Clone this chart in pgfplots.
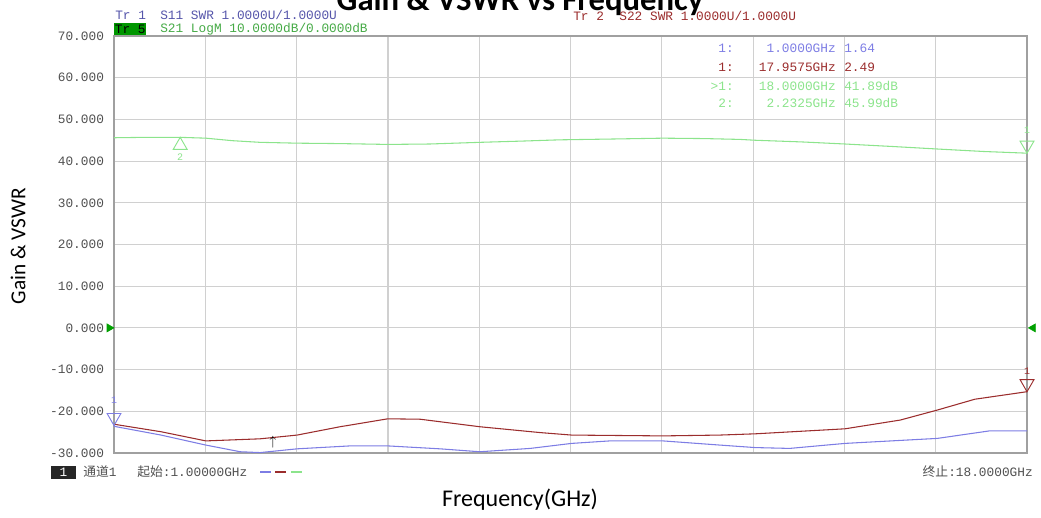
\documentclass[border=0pt]{standalone}
\usepackage{pgfplots}
\pgfplotsset{compat=1.18}
\usepackage{fontspec}
\setmainfont{Carlito}
\newfontfamily\vna{Liberation Mono}
\newfontfamily\cjk{Noto Sans CJK SC}
\definecolor{gridc}{RGB}{208,208,208}
\definecolor{framec}{RGB}{160,160,160}
\definecolor{tickc}{RGB}{80,80,80}
\definecolor{s21}{RGB}{140,228,140}
\definecolor{s21t}{RGB}{70,170,70}
\definecolor{s11}{RGB}{125,125,228}
\definecolor{s11t}{RGB}{85,85,170}
\definecolor{s22}{RGB}{155,45,45}
\definecolor{trbox}{RGB}{0,150,0}
\definecolor{refm}{RGB}{0,160,0}
\newcommand\vf{\vna\fontsize{9.6}{11}\selectfont}
\begin{document}
\begin{tikzpicture}
\path[use as bounding box] (0,0) rectangle (780.75pt,387.75pt);
\begin{axis}[
  at={(85.5pt,48pt)}, anchor=south west,
  scale only axis, width=684.75pt, height=312.75pt,
  xmin=1, xmax=18, ymin=-30, ymax=70,
  xtick={1,2.7,4.4,6.1,7.8,9.5,11.2,12.9,14.6,16.3,18}, xticklabels={},
  ytick={-30,-20,...,70},
  major tick length=0pt,
  grid=major,
  major grid style={draw=gridc, line width=0.9pt},
  axis line style={draw=framec, line width=1.3pt},
  yticklabel style={font=\vf, text=tickc, xshift=-4pt,
    /pgf/number format/fixed, /pgf/number format/fixed zerofill,
    /pgf/number format/precision=3, /pgf/number format/assume math mode=true},
  clip=false,
]
% S21 LogM
\addplot[s21, line width=0.8pt] coordinates {
(1,45.6) (1.6,45.7) (2.23,45.7) (2.71,45.5) (3.2,44.9) (3.72,44.5) (4.41,44.3)
(5.2,44.2) (6.10,44.0) (6.88,44.1) (7.81,44.5) (8.6,44.8) (9.30,45.1) (10.3,45.3)
(11.22,45.5) (12.0,45.4) (12.66,45.2) (12.94,45.0) (13.8,44.6) (14.61,44.1)
(15.5,43.5) (16.33,42.9) (17.2,42.3) (18,41.9)};
% S22 SWR
\addplot[s22, line width=0.8pt] coordinates {
(1,-23.1) (1.875,-24.9) (2.71,-27.1) (3.72,-26.6) (4.41,-25.7) (5.21,-23.7)
(6.10,-21.8) (6.70,-21.9) (7.81,-23.7) (8.93,-25.1) (9.52,-25.7) (11.22,-25.9)
(12.28,-25.7) (12.94,-25.4) (14.61,-24.2) (15.64,-22.1) (16.33,-19.7)
(17.03,-17.1) (18,-15.3)};
% S11 SWR
\addplot[s11, line width=0.8pt] coordinates {
(1,-23.6) (1.875,-25.7) (2.71,-28.1) (3.35,-29.7) (3.72,-29.9) (4.41,-29.0)
(5.39,-28.3) (6.10,-28.3) (7.07,-29.0) (7.81,-29.7) (8.75,-28.9) (9.52,-27.7)
(10.23,-27.1) (11.22,-27.1) (12.28,-28.1) (12.94,-28.7) (13.58,-28.9)
(14.61,-27.7) (16.33,-26.5) (17.30,-24.7) (18,-24.7)};
% markers
\addplot[s11, only marks, mark=triangle, mark size=6pt,
  mark options={yshift=6pt, rotate=180, line width=0.7pt}] coordinates {(1,-23.4)};
\addplot[s22, only marks, mark=triangle, mark size=6pt,
  mark options={yshift=6pt, rotate=180, line width=0.7pt}] coordinates {(18,-15.3)};
\addplot[s21, only marks, mark=triangle, mark size=6pt,
  mark options={yshift=6pt, rotate=180, line width=0.7pt}] coordinates {(18,41.9)};
\addplot[s21, only marks, mark=triangle, mark size=6pt,
  mark options={yshift=-6pt, line width=0.7pt}] coordinates {(2.2325,45.7)};
\addplot[s22, only marks, mark=text, text mark={$\uparrow$}] coordinates {(3.96,-27.3)};
% reference level markers
\addplot[refm, only marks, mark=triangle*, mark size=3.5pt,
  mark options={xshift=-3.5pt, rotate=-90}] coordinates {(1,0)};
\addplot[refm, only marks, mark=triangle*, mark size=3.5pt,
  mark options={xshift=4.5pt, rotate=90}] coordinates {(18,0)};
\node[s11, font=\vna\fontsize{7.5}{8}\selectfont, inner sep=0] at (axis cs:1,-23.4) [yshift=19pt] {1};
\node[s22, font=\vna\fontsize{7.5}{8}\selectfont, inner sep=0] at (axis cs:18,-15.3) [yshift=15pt] {1};
\node[s21, font=\vna\fontsize{7.5}{8}\selectfont, inner sep=0] at (axis cs:18,41.9) [yshift=17pt] {1};
\node[s21, font=\vna\fontsize{7.5}{8}\selectfont, inner sep=0] at (axis cs:2.2325,45.7) [yshift=-15pt] {2};
\end{axis}
\begin{scope}[x=0.75pt, y=-0.75pt, yshift=387.75pt]
% title (cut at top)
\node[font=\fontsize{24.5}{28}\selectfont\bfseries, anchor=base, inner sep=0] at (520,11) {Gain \& VSWR vs Frequency};
% axis labels
\node[font=\fontsize{16}{19}\selectfont, rotate=90, inner sep=0] at (18,246) {Gain \& VSWR};
\node[font=\fontsize{18}{21}\selectfont, inner sep=0] at (520,500) {Frequency(GHz)};
% header lines
\node[s11t, font=\vf, anchor=west, inner sep=0] at (115,15) {Tr 1};
\node[s11t, font=\vf, anchor=west, inner sep=0] at (160,15) {S11 SWR 1.0000U/1.0000U};
\node[fill=trbox, text=black, font=\vf, anchor=west, inner sep=0, minimum width=24pt, minimum height=9pt] at (114,29) {Tr 5};
\node[s21t, font=\vf, anchor=west, inner sep=0] at (160,29) {S21 LogM 10.0000dB/0.0000dB};
\node[s22, font=\vf, anchor=west, inner sep=0] at (573,16) {Tr~2~~S22 SWR 1.0000U/1.0000U};
% marker table
\node[s11, font=\vf, anchor=east, inner sep=0] at (734,48) {1:};
\node[s11, font=\vf, anchor=east, inner sep=0] at (836,48) {1.0000GHz};
\node[s11, font=\vf, anchor=west, inner sep=0] at (844,48) {1.64};
\node[s22, font=\vf, anchor=east, inner sep=0] at (734,67) {1:};
\node[s22, font=\vf, anchor=east, inner sep=0] at (836,67) {17.9575GHz};
\node[s22, font=\vf, anchor=west, inner sep=0] at (844,67) {2.49};
\node[s21, font=\vf, anchor=east, inner sep=0] at (734,86) {>1:};
\node[s21, font=\vf, anchor=east, inner sep=0] at (836,86) {18.0000GHz};
\node[s21, font=\vf, anchor=west, inner sep=0] at (844,86) {41.89dB};
\node[s21, font=\vf, anchor=east, inner sep=0] at (734,103) {2:};
\node[s21, font=\vf, anchor=east, inner sep=0] at (836,103) {2.2325GHz};
\node[s21, font=\vf, anchor=west, inner sep=0] at (844,103) {45.99dB};
% bottom status line
\node[fill=black!85, text=white, font=\vf, inner sep=0, minimum width=18.75pt, minimum height=9.75pt] at (63.5,472.5) {1};
\node[text=tickc, font=\vf, anchor=west, inner sep=0] at (83,472) {{\cjk\fontsize{9.6}{11}\selectfont 通道}1};
\node[text=tickc, font=\vf, anchor=west, inner sep=0] at (137,472) {{\cjk\fontsize{9.6}{11}\selectfont 起始}:1.00000GHz};
\draw[s11, line width=0.8pt] (260,472) -- (271,472);
\draw[s22, line width=0.8pt] (275,472) -- (286,472);
\draw[s21, line width=0.8pt] (291,472) -- (302,472);
\node[text=tickc, font=\vf, anchor=east, inner sep=0] at (1033,472) {{\cjk\fontsize{9.6}{11}\selectfont 终止}:18.0000GHz};
\end{scope}
\end{tikzpicture}
\end{document}
